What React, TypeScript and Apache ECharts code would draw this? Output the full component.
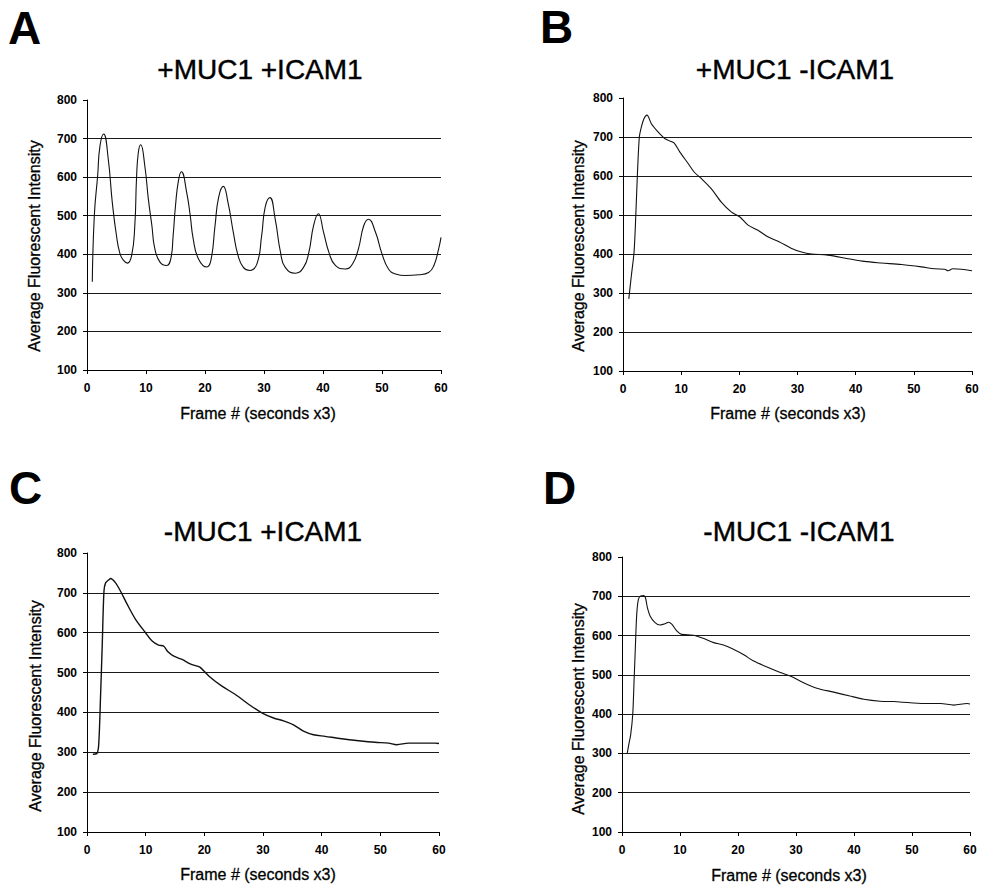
import React, { useEffect, useRef } from "react";
import * as echarts from "echarts";

// ---------- data ----------
const xTicks = [0, 10, 20, 30, 40, 50, 60];
const yTicks = [100, 200, 300, 400, 500, 600, 700, 800];

const panelLetters = ["A", "B", "C", "D"];
const panelTitles = ["+MUC1 +ICAM1", "+MUC1 -ICAM1", "-MUC1 +ICAM1", "-MUC1 -ICAM1"];
const xTitle = "Frame # (seconds x3)";
const yTitle = "Average Fluorescent Intensity";

const aFrames = [0.9, 1.24, 1.8, 2.2, 2.82, 3.6, 4.29, 5.0, 5.6, 6.2, 6.84, 7.57, 8.1, 8.4, 8.7, 9.1, 9.8, 10.4, 11.0, 11.5, 12.4, 13.5, 14.2, 14.6, 15.0, 15.5, 16.0, 16.9, 17.5, 18.0, 18.9, 20.3, 21.0, 21.7, 22.3, 23.1, 23.9, 24.8, 25.6, 26.5, 27.6, 28.8, 29.6, 30.2, 31.0, 31.9, 32.8, 33.6, 35.3, 36.7, 37.6, 38.4, 39.2, 40.1, 41.0, 42.1, 43.8, 45.0, 46.0, 46.9, 47.7, 48.9, 50.0, 51.1, 52.3, 54.0, 56.2, 57.9, 58.8, 59.6, 60.0];
const aValues = [329, 500, 603, 681, 712, 647, 534, 448, 401, 384, 377, 397, 474, 599, 664, 684, 629, 543, 474, 414, 379, 371, 388, 448, 526, 591, 614, 560, 500, 440, 388, 367, 384, 474, 547, 576, 534, 457, 397, 366, 358, 375, 448, 522, 547, 491, 405, 366, 351, 366, 405, 474, 505, 457, 405, 371, 362, 375, 414, 474, 491, 457, 401, 362, 349, 345, 347, 353, 371, 414, 444];

const bFrames = [1.0, 1.44, 1.9, 2.2, 2.47, 2.81, 3.16, 3.6, 4.13, 4.88, 6.02, 7.17, 8.03, 8.77, 9.75, 11.2, 12.3, 13.5, 15.2, 16.9, 18.6, 20.1, 21.5, 23.2, 24.9, 26.9, 28.9, 30.7, 32.4, 35.2, 38.7, 41.5, 44.4, 47.9, 51.3, 53.6, 55.3, 55.9, 56.7, 58.2, 60.0];
const bValues = [285, 345, 405, 499, 602, 700, 726, 747, 756, 734, 713, 696, 690, 685, 662, 632, 609, 593, 567, 533, 508, 495, 474, 461, 444, 431, 415, 405, 400, 397, 388, 381, 377, 373, 367, 362, 361, 357, 362, 361, 357];

const cFrames = [1.0, 1.7, 2.0, 2.32, 2.6, 2.89, 3.17, 3.74, 4.02, 4.87, 5.72, 6.86, 8.3, 9.98, 11.1, 12.2, 13.1, 13.8, 14.8, 16.2, 17.6, 18.8, 19.3, 20.8, 23.0, 25.3, 27.6, 29.8, 31.8, 33.5, 35.2, 36.9, 38.6, 40.6, 43.4, 46.3, 49.1, 51.4, 52.8, 54.8, 57.1, 59.3, 60.0];
const cValues = [295, 297, 320, 445, 570, 704, 725, 733, 736, 725, 704, 671, 633, 600, 579, 569, 566, 552, 541, 533, 522, 516, 513, 491, 466, 445, 420, 399, 386, 379, 369, 353, 344, 340, 334, 329, 325, 323, 319, 323, 323, 323, 322];

const dFrames = [0.9, 1.2, 1.5, 1.85, 2.08, 2.3, 2.54, 2.83, 3.23, 3.69, 4.03, 4.38, 4.84, 5.7, 6.56, 7.43, 8.0, 8.58, 9.44, 10.3, 12.3, 14.0, 15.8, 17.5, 19.2, 21.0, 22.7, 25.0, 27.3, 29.0, 31.3, 33.6, 36.5, 39.3, 41.7, 44.5, 46.8, 49.7, 52.6, 54.9, 57.2, 59.5, 60.0];
const dValues = [300, 325, 348, 399, 484, 569, 654, 692, 701, 702, 697, 671, 650, 633, 627, 630, 634, 629, 612, 603, 601, 593, 582, 576, 565, 551, 535, 520, 506, 497, 480, 466, 456, 446, 438, 433, 432, 429, 427, 427, 423, 427, 426];

const panelFrames = [aFrames, bFrames, cFrames, dFrames];
const panelValues = [aValues, bValues, cValues, dValues];

// ---------- layout ----------
const FONT = '"Liberation Sans", Arial, Helvetica, sans-serif';
const grids = [
  { left: 87, top: 100, width: 354, height: 270 },
  { left: 623, top: 98, width: 349, height: 273 },
  { left: 87, top: 553, width: 352, height: 279 },
  { left: 622, top: 557, width: 348, height: 275 },
];
const letterPos = [[8, 28], [540, 27], [9, 488], [543, 488]];
const titlePos = [[260, 69], [795, 69], [263, 531], [799, 531]];
const yTitlePos = [[34, 246], [578, 246], [35, 706], [578, 709]];
const xTitlePos = [[258, 413], [788, 413], [258, 874], [789, 875]];
const smoothness = [0.5, 0.3, 0.3, 0.3];

export default function App() {
  const ref = useRef<HTMLDivElement>(null);
  useEffect(() => {
    if (!ref.current) return;
    const chart = echarts.init(ref.current, null, { renderer: "svg" });
    const graphic: any[] = [];
    for (let i = 0; i < 4; i++) {
      graphic.push({
        type: "text", x: letterPos[i][0], y: letterPos[i][1],
        style: { text: panelLetters[i], font: `bold 46px ${FONT}`, fill: "#000", align: "left", verticalAlign: "middle" },
      });
      graphic.push({
        type: "text", x: titlePos[i][0], y: titlePos[i][1],
        style: { text: panelTitles[i], font: `28px ${FONT}`, fill: "#000", stroke: "#000", lineWidth: 0.4, align: "center", verticalAlign: "middle" },
      });
      graphic.push({
        type: "text", x: yTitlePos[i][0], y: yTitlePos[i][1], rotation: Math.PI / 2,
        style: { text: yTitle, font: `16px ${FONT}`, fill: "#000", stroke: "#000", lineWidth: 0.3, align: "center", verticalAlign: "middle" },
      });
      graphic.push({
        type: "text", x: xTitlePos[i][0], y: xTitlePos[i][1],
        style: { text: xTitle, font: `16px ${FONT}`, fill: "#000", stroke: "#000", lineWidth: 0.3, align: "center", verticalAlign: "middle" },
      });
    }
    const option: any = {
      animation: false,
      backgroundColor: "#fff",
      grid: grids.map((g) => ({ ...g, containLabel: false, outerBoundsMode: "none" })),
      xAxis: grids.map((_, i) => ({
        type: "value", gridIndex: i, min: xTicks[0], max: xTicks[xTicks.length - 1], interval: 10,
        axisLine: { show: true, onZero: false, lineStyle: { color: "#000", width: 1 } },
        axisTick: { show: true, length: 4, lineStyle: { color: "#000" } },
        axisLabel: { color: "#000", fontWeight: "bold", fontSize: 12, fontFamily: FONT, margin: 12 },
        splitLine: { show: false },
      })),
      yAxis: grids.map((_, i) => ({
        type: "value", gridIndex: i, min: yTicks[0], max: yTicks[yTicks.length - 1], interval: 100,
        axisLine: { show: true, lineStyle: { color: "#000", width: 1 } },
        axisTick: { show: true, length: 4, lineStyle: { color: "#000" } },
        axisLabel: { color: "#000", fontWeight: "bold", fontSize: 12, fontFamily: FONT, margin: 10 },
        splitLine: { show: true, showMinLine: false, showMaxLine: false, lineStyle: { color: "#1a1a1a", width: 1.2 } },
      })),
      series: grids.map((_, i) => ({
        type: "line", xAxisIndex: i, yAxisIndex: i,
        data: panelFrames[i].map((x, k) => [x, panelValues[i][k]]),
        showSymbol: false, smooth: smoothness[i],
        lineStyle: { color: "#111", width: i === 2 ? 1.4 : 1.1 },
      })),
      graphic,
    };
    chart.setOption(option);
    return () => chart.dispose();
  }, []);
  return (
    <div
      ref={ref}
      style={{ position: "fixed", left: 0, top: 0, width: 981, height: 889, background: "#fff" }}
    />
  );
}
